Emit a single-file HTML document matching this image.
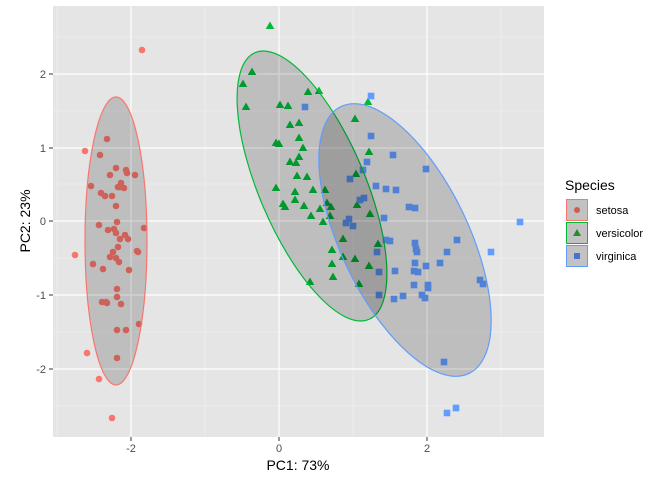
<!DOCTYPE html>
<html><head><meta charset="utf-8"><style>body{margin:0;background:#fff}svg{display:block;font-family:"Liberation Sans",sans-serif}</style></head><body>
<svg width="672" height="480" viewBox="0 0 672 480">
<rect x="53" y="6" width="491" height="431" fill="#e5e5e5"/>
<g stroke="#f2f2f2" stroke-width="0.6">
<line x1="57" y1="6" x2="57" y2="437"/><line x1="205" y1="6" x2="205" y2="437"/><line x1="353" y1="6" x2="353" y2="437"/><line x1="501" y1="6" x2="501" y2="437"/>
<line x1="53" y1="37" x2="544" y2="37"/><line x1="53" y1="111" x2="544" y2="111"/><line x1="53" y1="184" x2="544" y2="184"/><line x1="53" y1="258" x2="544" y2="258"/><line x1="53" y1="332" x2="544" y2="332"/><line x1="53" y1="406" x2="544" y2="406"/>
</g>
<g stroke="#fff" stroke-width="1.2">
<line x1="131" y1="6" x2="131" y2="437"/><line x1="279" y1="6" x2="279" y2="437"/><line x1="427" y1="6" x2="427" y2="437"/>
<line x1="53" y1="74" x2="544" y2="74"/><line x1="53" y1="148" x2="544" y2="148"/><line x1="53" y1="221" x2="544" y2="221"/><line x1="53" y1="295" x2="544" y2="295"/><line x1="53" y1="369" x2="544" y2="369"/>
</g>
<g fill="#f8766d" id="s"></g>
<g fill="#00ba38" id="v"></g>
<g fill="#619cff" id="g"></g>
<g fill="#000" fill-opacity="0.17">
<ellipse cx="116" cy="241" rx="31" ry="144" stroke="#f8766d" stroke-width="1.2" stroke-opacity="1"/>
<ellipse cx="312" cy="186" rx="145" ry="53" transform="rotate(66.9 312 186)" stroke="#00ba38" stroke-width="1.2" stroke-opacity="1"/>
<ellipse cx="405" cy="240" rx="148" ry="64" transform="rotate(64.4 405 240)" stroke="#619cff" stroke-width="1.2" stroke-opacity="1"/>
</g>
<g fill="#4d4d4d" font-size="11">
<text x="131" y="452" text-anchor="middle">-2</text><text x="279" y="452" text-anchor="middle">0</text><text x="427" y="452" text-anchor="middle">2</text>
<text x="46" y="78" text-anchor="end">2</text><text x="46" y="152" text-anchor="end">1</text><text x="46" y="225" text-anchor="end">0</text><text x="46" y="299" text-anchor="end">-1</text><text x="46" y="373" text-anchor="end">-2</text>
</g>
<g stroke="#333" stroke-width="1">
<line x1="131" y1="437" x2="131" y2="441"/><line x1="279" y1="437" x2="279" y2="441"/><line x1="427" y1="437" x2="427" y2="441"/>
<line x1="49" y1="74" x2="53" y2="74"/><line x1="49" y1="148" x2="53" y2="148"/><line x1="49" y1="221" x2="53" y2="221"/><line x1="49" y1="295" x2="53" y2="295"/><line x1="49" y1="369" x2="53" y2="369"/>
</g>
<text x="298" y="470" font-size="14" text-anchor="middle">PC1: 73%</text>
<text x="30" y="221" font-size="14" text-anchor="middle" transform="rotate(-90 30 221)">PC2: 23%</text>
<text x="565" y="190" font-size="14">Species</text>
<rect x="566.5" y="199.5" width="21" height="21" fill="#c2c2c2" stroke="#f8766d"/>
<rect x="566.5" y="222.5" width="21" height="21" fill="#c2c2c2" stroke="#00ba38"/>
<rect x="566.5" y="245.5" width="21" height="21" fill="#c2c2c2" stroke="#619cff"/>
<circle cx="577" cy="210" r="3" fill="#d05b54"/>
<polygon points="577,229 581,236 573,236" fill="#1f8f30"/>
<rect x="574" y="253" width="6" height="6" fill="#4a70d0"/>
<g font-size="11"><text x="596" y="214">setosa</text><text x="596" y="237">versicolor</text><text x="596" y="260">virginica</text></g>
<script>
const s=[[142,50],[85,151],[107,139],[100,155],[116,168],[91,186],[110,175],[126,170],[127,173],[135,175],[120,187],[101,193],[105,196],[112,196],[116,206],[118,187],[121,183],[124,188],[99,225],[108,230],[114,229],[117,222],[116,233],[125,235],[120,239],[113,252],[110,257],[116,258],[119,262],[118,247],[144,228],[137,251],[138,252],[93,264],[103,269],[75,255],[128,239],[129,270],[117,289],[117,297],[102,302],[106,302],[107,303],[121,304],[139,324],[126,330],[117,330],[87,353],[117,358],[99,379],[112,418]];
const v=[[270,26],[252,72],[243,84],[246,107],[308,92],[319,91],[280,105],[288,106],[368,102],[290,125],[299,123],[355,119],[299,138],[276,143],[279,144],[303,148],[299,157],[290,162],[296,163],[369,152],[356,174],[297,176],[307,177],[276,188],[295,192],[313,190],[325,190],[295,200],[283,204],[285,207],[304,206],[327,203],[331,207],[357,205],[311,216],[320,209],[330,216],[323,222],[370,214],[343,239],[378,244],[332,250],[343,257],[355,259],[332,264],[369,266],[333,277],[310,282],[359,284]];
const g=[[371,96],[305,107],[371,136],[393,155],[426,169],[367,162],[363,170],[350,179],[376,186],[386,189],[396,190],[409,207],[415,208],[364,198],[360,200],[384,218],[349,219],[346,223],[353,226],[386,240],[390,241],[415,243],[416,249],[417,252],[457,240],[447,252],[440,263],[415,263],[426,266],[377,252],[379,272],[395,271],[414,271],[418,272],[414,285],[428,285],[428,288],[422,295],[425,298],[403,296],[394,299],[379,295],[480,280],[483,284],[491,252],[444,362],[520,222],[447,413],[456,408]];
const ns="http://www.w3.org/2000/svg";
function add(id,arr,f){const el=document.getElementById(id);arr.forEach(p=>{el.appendChild(f(p[0],p[1]));});}
add("s",s,(x,y)=>{const c=document.createElementNS(ns,"circle");c.setAttribute("cx",x);c.setAttribute("cy",y);c.setAttribute("r",3.3);return c;});
add("v",v,(x,y)=>{const c=document.createElementNS(ns,"polygon");c.setAttribute("points",`${x},${y-4.5} ${x+4.3},${y+3} ${x-4.3},${y+3}`);return c;});
add("g",g,(x,y)=>{const c=document.createElementNS(ns,"rect");c.setAttribute("x",x-3.3);c.setAttribute("y",y-3.3);c.setAttribute("width",6.6);c.setAttribute("height",6.6);return c;});
</script>
</svg>
</body></html>
